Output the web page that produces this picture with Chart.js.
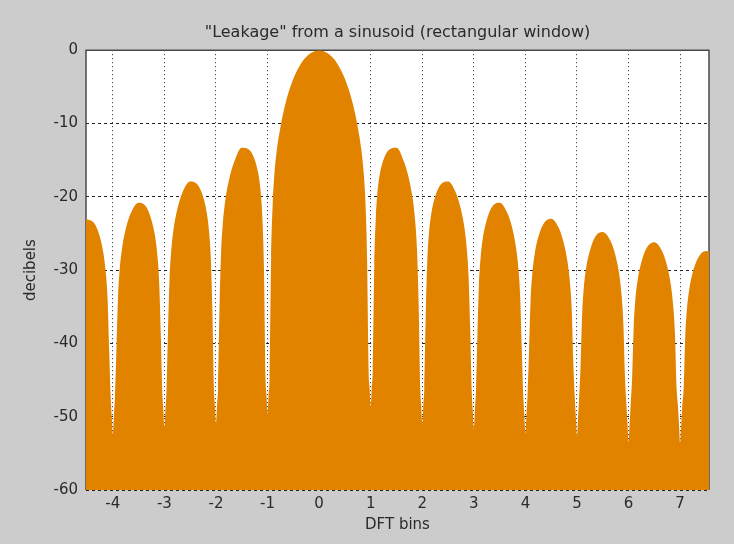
<!DOCTYPE html>
<html>
<head>
<meta charset="utf-8">
<script src="https://cdn.jsdelivr.net/npm/chart.js@4"></script>
<style>
  html, body { margin: 0; padding: 0; background: #cccccc; }
  canvas { display: block; }
</style>
</head>
<body>
<canvas id="c" width="734" height="544"></canvas>
<script>
const titleText = '"Leakage" from a sinusoid (rectangular window)';
const xTitle = 'DFT bins';
const yTitle = 'decibels';
const xTicks = [-4, -3, -2, -1, 0, 1, 2, 3, 4, 5, 6, 7];
const yTicks = [0, -10, -20, -30, -40, -50, -60];
const xRange = [-4.52, 7.56];
const yRange = [-60, 0];

// DFT bin positions (lobe by lobe)
const bins = [
  -4.52, -4.35, -4.25, -4.18, -4.13, -4.1, -4.07, -4.04, -4.02, -4,
  -3.98, -3.96, -3.93, -3.9, -3.87, -3.82, -3.75, -3.65, -3.5, -3.35, -3.25, -3.18, -3.13, -3.1, -3.07, -3.04, -3.02, -3,
  -2.98, -2.96, -2.93, -2.9, -2.87, -2.82, -2.75, -2.65, -2.5, -2.35, -2.25, -2.18, -2.13, -2.1, -2.07, -2.04, -2.02, -2,
  -1.98, -1.96, -1.93, -1.9, -1.87, -1.82, -1.75, -1.65, -1.5, -1.35, -1.25, -1.18, -1.13, -1.1, -1.07, -1.04, -1.02, -1,
  -0.98, -0.96, -0.93, -0.9, -0.87, -0.82, -0.75, -0.65, -0.5, -0.35, -0.2, 0, 0.2, 0.35, 0.5, 0.65, 0.75, 0.82, 0.87, 0.9, 0.93, 0.96, 0.98, 1,
  1.02, 1.04, 1.07, 1.1, 1.13, 1.18, 1.25, 1.35, 1.5, 1.65, 1.75, 1.82, 1.87, 1.9, 1.93, 1.96, 1.98, 2,
  2.02, 2.04, 2.07, 2.1, 2.13, 2.18, 2.25, 2.35, 2.5, 2.65, 2.75, 2.82, 2.87, 2.9, 2.93, 2.96, 2.98, 3,
  3.02, 3.04, 3.07, 3.1, 3.13, 3.18, 3.25, 3.35, 3.5, 3.65, 3.75, 3.82, 3.87, 3.9, 3.93, 3.96, 3.98, 4,
  4.02, 4.04, 4.07, 4.1, 4.13, 4.18, 4.25, 4.35, 4.5, 4.65, 4.75, 4.82, 4.87, 4.9, 4.93, 4.96, 4.98, 5,
  5.02, 5.04, 5.07, 5.1, 5.13, 5.18, 5.25, 5.35, 5.5, 5.65, 5.75, 5.82, 5.87, 5.9, 5.93, 5.96, 5.98, 6,
  6.02, 6.04, 6.07, 6.1, 6.13, 6.18, 6.25, 6.35, 6.5, 6.65, 6.75, 6.82, 6.87, 6.9, 6.93, 6.96, 6.98, 7,
  7.02, 7.04, 7.07, 7.1, 7.13, 7.18, 7.25, 7.35, 7.5, 7.56
];

// Level in decibels at each bin position
const decibels = [
  -23.0, -23.7, -25.5, -27.8, -30.8, -34.2, -41.1, -47.5, -50.0, -52.5,
  -50.0, -47.5, -40.8, -33.8, -30.2, -27.0, -24.4, -22.2, -20.8, -21.4, -23.2, -25.4, -28.4, -31.8, -38.7, -46.6, -49.1, -51.6,
  -49.1, -46.6, -38.3, -31.2, -27.6, -24.3, -21.7, -19.4, -17.9, -18.4, -20.0, -22.1, -25.0, -28.4, -35.3, -46.0, -48.5, -51.0,
  -48.5, -46.0, -34.7, -27.5, -23.9, -20.5, -17.8, -15.3, -13.3, -13.6, -14.9, -16.8, -19.5, -22.8, -29.5, -44.6, -47.1, -49.6,
  -47.1, -44.6, -28.3, -21.0, -17.2, -13.6, -10.5, -7.2, -3.9, -1.8, -0.6, 0, -0.6, -1.8, -3.9, -7.2, -10.5, -13.6, -17.2, -21.0, -28.3, -43.7, -46.2, -48.7,
  -46.2, -43.7, -29.5, -22.8, -19.5, -16.8, -14.9, -13.6, -13.3, -15.3, -17.8, -20.5, -23.9, -27.5, -34.7, -46.0, -48.5, -51.0,
  -48.5, -46.0, -35.3, -28.4, -25.0, -22.1, -20.0, -18.4, -17.9, -19.4, -21.7, -24.3, -27.6, -31.2, -38.3, -46.7, -49.2, -51.7,
  -49.2, -46.7, -38.7, -31.8, -28.4, -25.4, -23.2, -21.4, -20.8, -22.2, -24.4, -27.0, -30.2, -33.8, -40.8, -47.3, -49.8, -52.3,
  -49.8, -47.3, -41.1, -34.2, -30.8, -27.8, -25.5, -23.7, -23.0, -24.3, -26.5, -29.0, -32.2, -35.7, -42.8, -47.7, -50.2, -52.7,
  -50.2, -47.7, -43.0, -36.1, -32.6, -29.6, -27.4, -25.5, -24.8, -26.0, -28.1, -30.6, -33.8, -37.4, -44.4, -48.5, -51.0, -53.5,
  -51.0, -48.5, -44.6, -37.7, -34.2, -31.2, -28.9, -27.0, -26.2, -27.4, -29.5, -32.0, -35.2, -38.7, -45.8, -48.7, -51.2, -53.7,
  -51.2, -48.7, -45.9, -39.0, -35.5, -32.5, -30.2, -28.3, -27.4, -27.5
];

const FILL = '#e28300';
const TEXT = '#2a2a2a';
const FONT = 'DejaVu Sans';

const points = bins.map((b, i) => ({ x: b, y: decibels[i] }));

const backgroundPlugin = {
  id: 'bg',
  beforeDraw(chart) {
    const { ctx, chartArea: a } = chart;
    ctx.save();
    ctx.fillStyle = '#cccccc';
    ctx.fillRect(0, 0, chart.width, chart.height);
    ctx.fillStyle = '#ffffff';
    ctx.fillRect(a.left, a.top, a.right - a.left, a.bottom - a.top);
    ctx.restore();
  },
  beforeDatasetsDraw(chart) {
    const { ctx, chartArea: a } = chart;
    ctx.save();
    ctx.strokeStyle = '#4a4a4a';
    ctx.lineWidth = 1.5;
    ctx.beginPath();
    ctx.moveTo(a.left, a.bottom);
    ctx.lineTo(a.left, a.top);
    ctx.lineTo(a.right, a.top);
    ctx.lineTo(a.right, a.bottom);
    ctx.stroke();
    ctx.restore();
  }
};

new Chart(document.getElementById('c'), {
  type: 'line',
  data: {
    datasets: [{
      data: points,
      borderColor: FILL,
      borderWidth: 0,
      backgroundColor: FILL,
      fill: 'start',
      pointRadius: 0,
      cubicInterpolationMode: 'monotone'
    }]
  },
  options: {
    responsive: false,
    animation: false,
    layout: { padding: { top: 0, right: 25, left: 0, bottom: 0 } },
    plugins: {
      legend: { display: false },
      tooltip: { enabled: false },
      title: {
        display: true,
        fullSize: false,
        text: titleText,
        color: TEXT,
        font: { family: FONT, size: 16, weight: 'normal' },
        padding: { top: 23, bottom: 8 }
      }
    },
    scales: {
      x: {
        type: 'linear',
        min: xRange[0],
        max: xRange[1],
        afterBuildTicks(axis) { axis.ticks = xTicks.map(v => ({ value: v })); },
        afterFit(axis) { axis.height = 54; },
        ticks: {
          color: TEXT,
          font: { family: FONT, size: 15 },
          padding: 5,
          maxRotation: 0,
          callback: v => String(v)
        },
        grid: {
          color: '#222222',
          lineWidth: 1,
          drawTicks: false
        },
        border: { display: false, dash: [1, 3] },
        title: {
          display: true,
          text: xTitle,
          color: TEXT,
          font: { family: FONT, size: 15 },
          padding: { top: 0, bottom: 10 }
        }
      },
      y: {
        type: 'linear',
        min: yRange[0],
        max: yRange[1],
        afterBuildTicks(axis) { axis.ticks = yTicks.map(v => ({ value: v })); },
        afterFit(axis) { axis.width = 86; },
        ticks: {
          color: TEXT,
          font: { family: FONT, size: 15 },
          padding: 8,
          callback: v => String(v)
        },
        grid: {
          color: '#222222',
          lineWidth: 1,
          drawTicks: false
        },
        border: { display: false, dash: [3, 3] },
        title: {
          display: true,
          text: yTitle,
          color: TEXT,
          font: { family: FONT, size: 15 },
          padding: { top: 22, bottom: 0 }
        }
      }
    }
  },
  plugins: [backgroundPlugin]
});
</script>
</body>
</html>
